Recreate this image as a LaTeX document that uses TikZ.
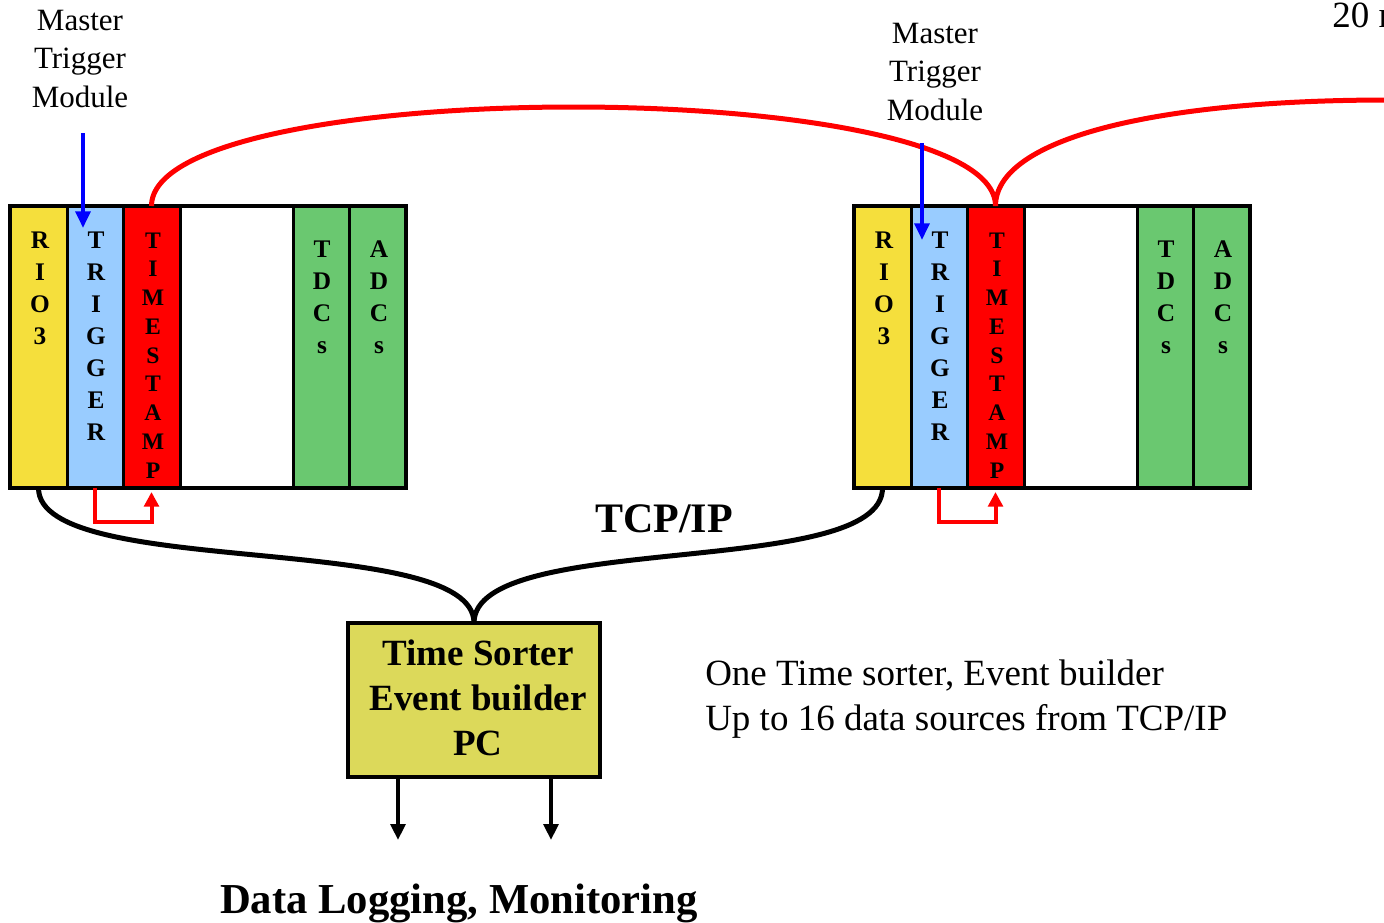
\documentclass[tikz,border=0pt]{standalone}
\usepackage{fontspec}
\setmainfont{Liberation Serif}
\usetikzlibrary{arrows.meta,fit,calc}

\definecolor{rioyellow}{RGB}{245,223,60}
\definecolor{trigblue}{RGB}{153,204,255}
\definecolor{stampred}{RGB}{255,0,0}
\definecolor{modgreen}{RGB}{106,200,112}
\definecolor{pcolive}{RGB}{220,217,90}

% one VME crate: #1 = name prefix, #2 = horizontal offset
\newcommand\vmecrate[2]{%
  \node[slot, fill=rioyellow, fit={({#2+10},206) ({#2+67},488)}] (#1-rio) {};
  \node[slot, fill=trigblue,  fit={({#2+67},206) ({#2+123},488)}] (#1-trg) {};
  \node[slot, fill=stampred,  fit={({#2+123},206) ({#2+180},488)}] (#1-ts) {};
  \node[slot, fill=white,     fit={({#2+180},206) ({#2+293},488)}] (#1-emp) {};
  \node[slot, fill=modgreen,  fit={({#2+293},206) ({#2+349},488)}] (#1-tdc) {};
  \node[slot, fill=modgreen,  fit={({#2+349},206) ({#2+406},488)}] (#1-adc) {};
  \node[frame, fit={({#2+10},206) ({#2+406},488)}] (#1-crate) {};
  \stackletters{#1-rio}{#2+40}{248}{32}{R,I,O,3}{slotletter}
  \stackletters{#1-trg}{#2+96}{248}{32}{T,R,I,G,G,E,R}{slotletter}
  \stackletters{#1-ts}{#2+153}{248}{28.75}{T,I,M,E,S,T,A,M,P}{stampletter}
  \stackletters{#1-tdc}{#2+322}{257}{32}{T,D,C,s}{slotletter}
  \stackletters{#1-adc}{#2+379}{257}{32}{A,D,C,s}{slotletter}
}
% vertical column of letters: #1 name, #2 x, #3 first baseline, #4 pitch, #5 letters, #6 style
\newcommand\stackletters[6]{%
  \foreach \c [count=\k] in {#5} {%
    \node[#6] (#1-l\k) at ({#2}, {#3+(\k-1)*#4}) {\c};
  }%
}

\begin{document}
\begin{tikzpicture}[x=0.75pt, y=-0.75pt,
  slot/.style={draw=black, line width=2.25pt, inner sep=0pt, outer sep=0pt},
  frame/.style={draw=black, line width=3pt, inner sep=0pt, outer sep=0pt},
  slotletter/.style={anchor=base, inner sep=0pt, font=\fontsize{19}{22}\selectfont\bfseries},
  stampletter/.style={anchor=base, inner sep=0pt, font=\fontsize{17.75}{20}\selectfont\bfseries},
  mtmlabel/.style={anchor=north, align=center, inner sep=0pt, font=\fontsize{23.25}{28.9}\selectfont},
  pcbox/.style={draw=black, fill=pcolive, line width=3pt, inner sep=0pt, outer sep=0pt},
  pctext/.style={align=center, inner sep=0pt, font=\fontsize{27.75}{33.75}\selectfont\bfseries},
  note/.style={anchor=north west, align=left, inner sep=0pt, font=\fontsize{27.75}{33.75}\selectfont},
  redwire/.style={draw=stampred, line width=3.75pt},
  blackwire/.style={draw=black, line width=3.75pt},
  trigarrow/.style={draw=blue, line width=3pt, -{Triangle[width=11pt,length=12.5pt]}},
  stamparrow/.style={draw=stampred, line width=3pt, -{Triangle[width=11pt,length=11pt]}},
  outarrow/.style={draw=black, line width=3pt, -{Triangle[width=11pt,length=12pt]}}]

\clip (0,0) rectangle (1384,922);
\useasboundingbox (0,0) rectangle (1384,922);

% the two crates
\vmecrate{L}{0}
\vmecrate{R}{844}

% timestamp chain between crates
\coordinate (chainout) at (1388,100);
\draw[redwire] (L-ts.north) .. controls +(0,-132) and +(0,-132) .. (R-ts.north);
\draw[redwire] (R-ts.north) .. controls +(0,-66) and +(-238,0) .. (chainout);

% trigger to timestamp
\draw[stamparrow] (L-trg.south) -- ++(0,34) -| ([yshift=-3pt]L-ts.south);
\draw[stamparrow] (R-trg.south) -- ++(0,34) -| ([yshift=-3pt]R-ts.south);

% master trigger module inputs
\node[mtmlabel] (L-mtm) at (80,9.5) {Master\\Trigger\\Module};
\node[mtmlabel] (R-mtm) at (935,22.5) {Master\\Trigger\\Module};
\coordinate (L-mtmout) at (83,133);
\coordinate (L-trgin) at (83,228);
\coordinate (R-mtmout) at (922,143);
\coordinate (R-trgin) at (922,240);
\draw[trigarrow] (L-mtmout) -- (L-trgin);
\draw[trigarrow] (R-mtmout) -- (R-trgin);

% event builder PC
\node[pcbox, fit={(348,623) (600,777)}] (pc) {};
\node[pctext] (pclabel) at ([xshift=3pt, yshift=1.5pt]pc.center) {Time Sorter\\Event builder\\PC};

% TCP/IP links
\draw[blackwire] (L-rio.south) .. controls +(0,92) and +(0,-93) .. (pc.north);
\draw[blackwire] (R-rio.south) .. controls +(0,92) and +(0,-93) .. (pc.north);
\node[anchor=base, inner sep=0pt, font=\fontsize{31.5}{36}\selectfont\bfseries] (tcp) at (664,532) {TCP/IP};

% outputs
\coordinate (logA) at (398,840);
\coordinate (logB) at (551,840);
\draw[outarrow] (pc.south -| logA) -- (logA);
\draw[outarrow] (pc.south -| logB) -- (logB);
\node[anchor=base, inner sep=0pt, font=\fontsize{32}{36}\selectfont\bfseries] (logging) at (459,913) {Data Logging, Monitoring};

% notes
\node[note] (summary) at (705,659.5) {One Time sorter, Event builder\\Up to 16 data sources from TCP/IP};
\node[anchor=base west, inner sep=0pt, font=\fontsize{27.75}{33}\selectfont] (pageno) at (1332,27) {20 m};
\end{tikzpicture}
\end{document}
